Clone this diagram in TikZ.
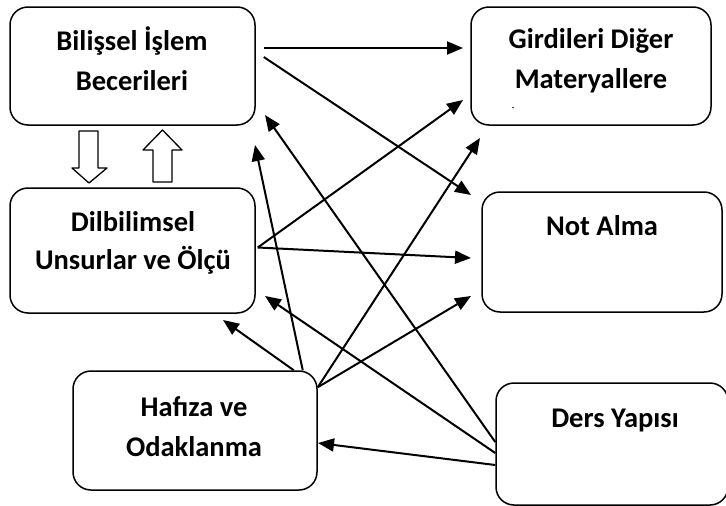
\documentclass[tikz,border=0pt]{standalone}
\usepackage{fontspec}
\setmainfont{Carlito}
\usetikzlibrary{arrows.meta}
\begin{document}
\begin{tikzpicture}[x=1pt,y=-1pt,line join=round,
  box/.style={draw,line width=1.5pt,rounded corners=18pt,inner sep=0pt},
  lbl/.style={align=center,font=\fontsize{28.5}{40}\selectfont\bfseries},
  conn/.style={line width=2pt,-{Triangle[length=16pt,width=13pt]}},
  blk/.style={draw,line width=1.3pt,fill=white}]
\useasboundingbox(0,0)rectangle(726,506);
% boxes
\node[box,minimum width=245,minimum height=118](bil)at(132.5,66){};
\node[box,minimum width=245,minimum height=125](dil)at(132.5,250.5){};
\node[box,minimum width=240,minimum height=118](gir)at(591,66){};
\node[box,minimum width=240,minimum height=120](not)at(602,252){};
\node[box,minimum width=244,minimum height=119](haf)at(195,430.5){};
\node[box,minimum width=232,minimum height=122](ders)at(612,444){};
% texts
\node[lbl](bil-t)at(132,58.5){Bilişsel İşlem\\Becerileri};
\node[lbl](gir-t)at(591,60.5){Girdileri Diğer\\Materyallere};
\node[lbl,font=\fontsize{8}{8}\selectfont\bfseries](gir-cut)at(513,109){-};
\node[lbl](dil-t)at(133,243){Dilbilimsel\\[-2pt]Unsurlar ve Ölçü};
\node[lbl](not-t)at(602,226){Not Alma};
\node[lbl](haf-t)at(194,426.5){Hafıza ve\\Odaklanma};
\node[lbl](ders-t)at(615,420){Ders Yapısı};
% free ends
\coordinate(gir-a)at(463,48);
\coordinate(gir-b)at(463,100);
\coordinate(gir-c)at(480,138);
\coordinate(not-a)at(471,195);
\coordinate(not-b)at(471,258);
\coordinate(not-c)at(471,296);
\coordinate(bil-a)at(255,145);
\coordinate(bil-b)at(265,115);
\coordinate(dil-a)at(223,320);
\coordinate(dil-b)at(265,296);
\coordinate(haf-a)at(318,443);
% connectors
\draw[conn]([xshift=8pt,yshift=18pt]bil.east)--(gir-a);
\draw[conn]([xshift=8pt,yshift=9pt]bil.east)--(not-a);
\draw[conn]([xshift=2pt,yshift=3pt]dil.east)--(gir-b);
\draw[conn]([xshift=2pt,yshift=3pt]dil.east)--(not-b);
\draw[conn]([xshift=-15pt]haf.north east)--(bil-a);
\draw[conn]([xshift=-24pt]haf.north east)--(dil-a);
\draw[conn]([yshift=-17pt]haf.north east)--(gir-c);
\draw[conn]([yshift=-17pt]haf.north east)--(not-c);
\draw[conn]([yshift=2pt]ders.west)--(bil-b);
\draw[conn]([yshift=-9pt]ders.west)--(dil-b);
\draw[conn]([yshift=-21pt]ders.west)--(haf-a);
% block arrows
\draw[blk](79,131)--(98,131)--(98,168)--(107,168)--(89,183)--(72,168)--(79,168)--cycle;
\draw[blk](153,182)--(172,182)--(172,150)--(182,150)--(162.5,130)--(143,150)--(153,150)--cycle;
\end{tikzpicture}
\end{document}
